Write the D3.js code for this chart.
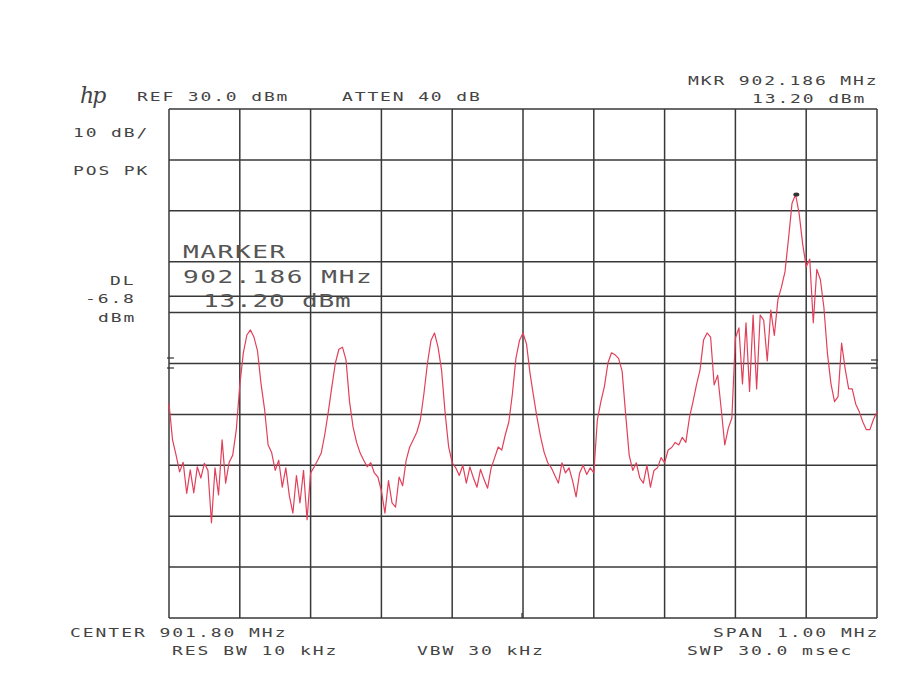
<!DOCTYPE html>
<html>
<head>
<meta charset="utf-8">
<script src="https://cdn.jsdelivr.net/npm/d3@7"></script>
<style>
  body { margin: 0; background: #fff; }
  text { font-family: "DejaVu Sans Mono", monospace; fill: #444; }
  text.big { fill: #555; }
</style>
</head>
<body>
<div id="vis"></div>
<script>
// Analyzer settings
var refDBm = 30, dbPerDiv = 10, nDiv = 10;
var centerMHz = 901.80, spanMHz = 1.00;
var displayLineDBm = -6.8;
var markerMHz = 902.186, markerDBm = 13.20;

// swept trace, dBm, one value per 5 kHz from 901.30 to 902.30 MHz
var level = [
 -27.8,-35.0,-38.0,-41.3,-39.4,-45.5,-40.9,-45.4,-40.3,-42.5,
 -39.6,-41.0,-51.3,-40.5,-45.8,-35.0,-43.5,-39.4,-38.0,-33.1,
 -24.2,-17.9,-14.4,-13.4,-14.8,-17.5,-24.0,-29.0,-36.0,-37.5,
 -41.0,-39.0,-44.3,-40.5,-46.0,-49.4,-42.0,-47.4,-41.0,-50.7,
 -41.5,-40.3,-39.0,-37.6,-34.0,-29.5,-24.6,-19.9,-17.2,-16.8,
 -19.3,-27.5,-32.5,-35.5,-37.6,-39.0,-40.3,-39.5,-41.5,-42.3,
 -45.0,-49.4,-43.0,-47.4,-48.2,-42.3,-44.0,-39.0,-36.4,-35.0,
 -33.5,-31.1,-26.0,-20.0,-15.5,-14.0,-16.8,-21.3,-29.7,-36.4,
 -39.5,-40.5,-42.0,-40.0,-43.5,-40.3,-42.5,-44.3,-40.8,-42.8,
 -44.5,-40.5,-38.5,-36.4,-37.0,-34.0,-31.5,-26.0,-19.0,-15.5,
 -14.0,-16.2,-22.0,-26.5,-30.8,-34.5,-37.5,-39.5,-40.5,-42.0,
 -43.5,-39.5,-41.5,-40.5,-43.0,-46.2,-41.5,-40.0,-41.8,-40.5,
 -41.5,-31.1,-27.5,-24.5,-19.9,-17.9,-18.3,-19.0,-21.5,-30.0,
 -38.0,-41.0,-39.5,-42.5,-43.5,-40.0,-44.3,-41.0,-40.5,-38.5,
 -39.5,-37.0,-36.5,-35.5,-36.0,-34.5,-35.5,-30.7,-27.6,-24.2,
 -21.3,-15.4,-14.0,-14.8,-24.2,-22.3,-29.0,-36.0,-32.7,-30.7,
 -15.0,-13.0,-24.0,-12.0,-25.5,-10.5,-25.0,-10.5,-11.5,-19.5,
 -9.5,-14.5,-7.5,-5.0,-2.0,4.5,11.5,13.2,9.5,3.5,
 -1.0,0.5,-12.0,-1.5,-3.5,-9.0,-18.0,-24.0,-27.5,-26.5,
 -16.0,-21.0,-25.0,-25.0,-28.0,-29.5,-31.5,-33.0,-33.0,-31.0,
 -29.5
];

// annotation texts
var topLeft   = ["REF  30.0 dBm", "ATTEN 40 dB"];
var topRight  = ["MKR 902.186 MHz", "13.20 dBm"];
var sideLeft  = ["10 dB/", "POS PK"];
var dlLabel   = ["DL", "-6.8", "dBm"];
var markerBox = ["MARKER", "902.186 MHz", "13.20 dBm"];
var bottomRow = ["CENTER 901.80 MHz", "RES BW 10 kHz", "VBW 30 kHz", "SPAN 1.00 MHz", "SWP 30.0 msec"];

// Layout
var W = 897, H = 687;
var plotL = 169, plotR = 877, plotT = 109, plotB = 618;

var svg = d3.select("#vis").append("svg")
	.attr("width", W)
	.attr("height", H);

var startMHz = centerMHz - spanMHz / 2;
var x = d3.scaleLinear()
	.domain([startMHz, startMHz + spanMHz])
	.range([plotL, plotR]);
var y = d3.scaleLinear()
	.domain([refDBm - dbPerDiv * nDiv, refDBm])
	.range([plotB, plotT]);

var stepMHz = spanMHz / (level.length - 1);

// grid
var grid = svg.append("g").attr("class", "grid")
	.attr("stroke", "#383838")
	.attr("stroke-width", 1.5);

grid.selectAll(".v")
	.data(d3.range(nDiv + 1).map(function(i) { return startMHz + i * spanMHz / nDiv; }))
	.enter().append("line")
	.attr("x1", function(d) { return x(d); })
	.attr("x2", function(d) { return x(d); })
	.attr("y1", plotT)
	.attr("y2", plotB);

grid.selectAll(".h")
	.data(d3.range(nDiv + 1).map(function(i) { return refDBm - i * dbPerDiv; }))
	.enter().append("line")
	.attr("x1", plotL)
	.attr("x2", plotR)
	.attr("y1", function(d) { return y(d); })
	.attr("y2", function(d) { return y(d); });

// display line
grid.append("line")
	.attr("x1", plotL).attr("x2", plotR)
	.attr("y1", y(displayLineDBm)).attr("y2", y(displayLineDBm));

// little edge marks
var marks = svg.append("g").attr("stroke", "#333").attr("stroke-width", 1.2);
[358, 368].forEach(function(yy) {
	marks.append("line").attr("x1", plotL - 2).attr("x2", plotL + 5).attr("y1", yy).attr("y2", yy);
});
[360, 368].forEach(function(yy) {
	marks.append("line").attr("x1", plotR - 6).attr("x2", plotR + 1).attr("y1", yy).attr("y2", yy);
});
marks.append("line")
	.attr("x1", x(centerMHz) - 1).attr("x2", x(centerMHz) - 1)
	.attr("y1", plotB - 5).attr("y2", plotB);

// trace
var line = d3.line()
	.x(function(d, i) { return x(startMHz + i * stepMHz); })
	.y(function(d) { return y(d); });

svg.append("path")
	.datum(level)
	.attr("fill", "none")
	.attr("stroke", "#e2405a")
	.attr("stroke-width", 1.2)
	.attr("stroke-linejoin", "round")
	.attr("d", line);

// marker
svg.append("ellipse")
	.attr("cx", x(markerMHz))
	.attr("cy", y(markerDBm))
	.attr("rx", 3)
	.attr("ry", 2)
	.attr("fill", "#333");

// text helper: monospace, stretched, fixed pitch
function label(str, px, py, size, pitch, stretch, cls) {
	var adv = 0.602 * size * stretch;
	svg.append("text")
		.attr("class", cls || null)
		.attr("transform", "translate(" + px + "," + py + ") scale(" + stretch + ",1)")
		.style("font-size", size + "px")
		.style("letter-spacing", ((pitch - adv) / stretch) + "px")
		.text(str);
}

label(topLeft[0], 137, 101, 12, 12.7, 1.5);
label(topLeft[1], 342, 101, 12, 12.7, 1.5);
label(topRight[0], 688, 85, 12, 12.7, 1.5);
label(topRight[1], 752, 103, 12, 12.7, 1.5);
label(sideLeft[0], 73, 137, 12, 12.7, 1.5);
label(sideLeft[1], 73, 175, 12, 12.7, 1.5);
label(dlLabel[0], 110, 285, 12, 12.7, 1.5);
label(dlLabel[1], 85, 303, 12, 12.7, 1.5);
label(dlLabel[2], 98, 322, 12, 12.7, 1.5);

label(markerBox[0], 183, 258, 18, 17.3, 1.45, "big");
label(markerBox[1], 183, 283, 18, 17.3, 1.45, "big");
label(markerBox[2], 203, 307, 18, 16.5, 1.45, "big");

label(bottomRow[0], 70, 637, 12, 12.8, 1.5);
label(bottomRow[1], 172, 655, 12, 12.8, 1.5);
label(bottomRow[2], 417, 655, 12, 12.8, 1.5);
label(bottomRow[3], 713, 637, 12, 12.8, 1.5);
label(bottomRow[4], 687, 655, 12, 12.8, 1.5);

// hp logo
svg.append("text")
	.attr("x", 80)
	.attr("y", 103)
	.style("font-family", "DejaVu Serif, serif")
	.style("font-style", "italic")
	.style("font-size", "22px")
	.style("letter-spacing", "-2px")
	.text("hp");
</script>
</body>
</html>
